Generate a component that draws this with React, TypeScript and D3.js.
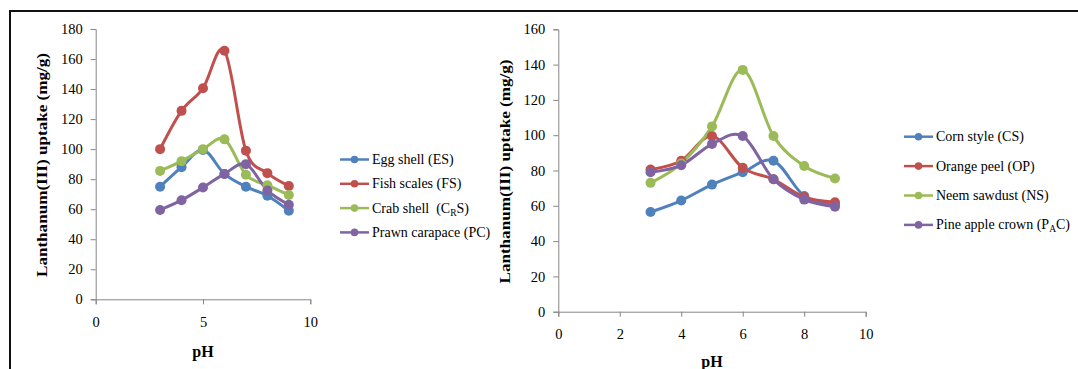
import React, { useEffect, useRef } from "react";
import * as d3 from "d3";

// pH values shared by both panels
const phValues = [3, 4, 5, 6, 7, 8, 9];

// left panel (animal waste)
const eggShell = [75, 88, 99.5, 83.5, 75, 69, 59];
const fishScales = [100, 125.5, 140.5, 165.5, 99, 84, 75.5];
const crabShell = [85.5, 92, 100, 106.5, 83, 76, 69.5];
const prawnCarapace = [59.5, 66, 74.5, 83.5, 90, 72.5, 63];

// right panel (plant waste)
const cornStyle = [56.5, 63, 72, 79, 85.5, 65.5, 60.5];
const orangePeel = [80.5, 85.5, 99.5, 81.5, 75, 65, 62];
const neemSawdust = [73, 84, 105, 137, 99.5, 82.5, 75.5];
const pineAppleCrown = [79, 83, 95, 99.5, 75, 63.5, 59.5];

const leftYTicks = [0, 20, 40, 60, 80, 100, 120, 140, 160, 180];
const leftXTicks = [0, 5, 10];
const rightYTicks = [0, 20, 40, 60, 80, 100, 120, 140, 160];
const rightXTicks = [0, 2, 4, 6, 8, 10];

const colors = ["#4F81BD", "#C0504D", "#9BBB59", "#8064A2"];
const FONT = "'Liberation Serif', 'Times New Roman', serif";

const App = () => {
  const svgRef = useRef(null);

  useEffect(() => {
    const svg = d3.select(svgRef.current);
    svg.selectAll("*").remove();

    // frame
    svg.append("line").attr("x1", 9).attr("x2", 1078).attr("y1", 11).attr("y2", 11)
      .attr("stroke", "#111").attr("stroke-width", 2);
    svg.append("line").attr("x1", 10).attr("x2", 10).attr("y1", 10).attr("y2", 369)
      .attr("stroke", "#111").attr("stroke-width", 2);

    const panels = [
      {
        xr: [95.7, 310.3], yr: [299.3, 29], ymax: 180,
        xTicks: leftXTicks, yTicks: leftYTicks,
        series: [
          { name: [["Egg shell (ES)"]], values: eggShell },
          { name: [["Fish scales (FS)"]], values: fishScales },
          { name: [["Crab shell  (C"], ["R", "sub"], ["S)"]], values: crabShell },
          { name: [["Prawn carapace (PC)"]], values: prawnCarapace },
        ],
        legendX: 340, legendY: 159.5, legendStep: 24.3,
        titleX: 42, titleY: 165, phX: 203, phY: 357,
      },
      {
        xr: [558.3, 865.7], yr: [311.7, 29.3], ymax: 160,
        xTicks: rightXTicks, yTicks: rightYTicks,
        series: [
          { name: [["Corn style (CS)"]], values: cornStyle },
          { name: [["Orange peel (OP)"]], values: orangePeel },
          { name: [["Neem sawdust (NS)"]], values: neemSawdust },
          { name: [["Pine apple crown (P"], ["A", "sub"], ["C)"]], values: pineAppleCrown },
        ],
        legendX: 904, legendY: 136.7, legendStep: 29.4,
        titleX: 505, titleY: 171.5, phX: 712, phY: 367,
      },
    ];

    panels.forEach((p) => {
      const x = d3.scaleLinear().domain([0, 10]).range(p.xr);
      const y = d3.scaleLinear().domain([0, p.ymax]).range(p.yr);
      const g = svg.append("g");

      const xAxis = g.append("g")
        .attr("transform", `translate(0,${p.yr[0]})`)
        .call(d3.axisBottom(x).tickValues(p.xTicks).tickSize(5).tickPadding(12).tickFormat(d3.format("d")));
      const yAxis = g.append("g")
        .attr("transform", `translate(${p.xr[0]},0)`)
        .call(d3.axisLeft(y).tickValues(p.yTicks).tickSize(5).tickPadding(8).tickFormat(d3.format("d")));
      [xAxis, yAxis].forEach((a) => {
        a.selectAll("path, line").attr("stroke", "#868686");
        a.selectAll("text").attr("font-family", FONT).attr("font-size", 14.5).attr("fill", "#000");
      });

      const line = d3.line()
        .x((d, i) => x(phValues[i]))
        .y((d) => y(d))
        .curve(d3.curveCardinal.tension(0));

      p.series.forEach((s, k) => {
        g.append("path").datum(s.values).attr("d", line)
          .attr("fill", "none").attr("stroke", colors[k]).attr("stroke-width", 3);
      });
      p.series.forEach((s, k) => {
        g.selectAll(null).data(s.values).join("circle")
          .attr("cx", (d, i) => x(phValues[i])).attr("cy", (d) => y(d))
          .attr("r", 5).attr("fill", colors[k]);
      });

      // legend
      p.series.forEach((s, k) => {
        const ly = p.legendY + k * p.legendStep;
        g.append("line").attr("x1", p.legendX).attr("x2", p.legendX + 29)
          .attr("y1", ly).attr("y2", ly).attr("stroke", colors[k]).attr("stroke-width", 2.5);
        g.append("circle").attr("cx", p.legendX + 14.5).attr("cy", ly).attr("r", 3.8).attr("fill", colors[k]);
        const t = g.append("text").attr("x", p.legendX + 32).attr("y", ly + 4.5)
          .attr("font-family", FONT).attr("font-size", 14).attr("fill", "#000")
          .attr("xml:space", "preserve").style("white-space", "pre");
        s.name.forEach(([txt, kind]) => {
          if (kind === "sub") {
            t.append("tspan").attr("font-size", 9.5).attr("dy", 3).text(txt);
          } else {
            const ts = t.append("tspan").text(txt);
            if (t.selectAll("tspan").size() > 1) ts.attr("dy", -3);
          }
        });
      });

      // axis titles
      g.append("text")
        .attr("transform", `translate(${p.titleX},${p.titleY}) rotate(-90)`)
        .attr("text-anchor", "middle").attr("dy", "0.35em")
        .attr("font-family", FONT).attr("font-weight", "bold").attr("font-size", 15.5)
        .attr("textLength", 224).attr("lengthAdjust", "spacingAndGlyphs")
        .text("Lanthanum(III) uptake (mg/g)");
      g.append("text")
        .attr("x", p.phX).attr("y", p.phY).attr("text-anchor", "middle")
        .attr("font-family", FONT).attr("font-weight", "bold").attr("font-size", 16)
        .text("pH");
    });

    return () => {
      svg.selectAll("*").remove();
    };
  }, []);

  return (
    <svg
      ref={svgRef}
      width={1078}
      height={369}
      style={{ position: "absolute", left: 0, top: 0, background: "#fff" }}
    />
  );
};

export default App;
